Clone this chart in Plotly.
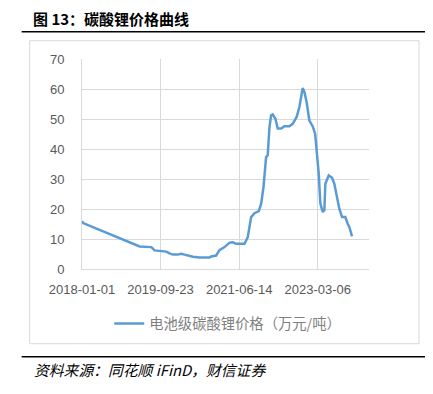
import plotly.graph_objects as go

dates = [
    "2018-01-01", "2018-01-10", "2019-04-08", "2019-05-26", "2019-07-11", "2019-08-06",
    "2019-09-21", "2019-11-08", "2019-12-04", "2019-12-31", "2020-02-06", "2020-03-07",
    "2020-04-02", "2020-04-29", "2020-06-08", "2020-07-31", "2020-10-19", "2020-11-02",
    "2020-12-12", "2021-01-07", "2021-02-17", "2021-03-29", "2021-04-24", "2021-05-21",
    "2021-07-27", "2021-08-22", "2021-09-18", "2021-10-15", "2021-11-18", "2021-12-07",
    "2021-12-26", "2022-01-16", "2022-01-29", "2022-02-12", "2022-02-25", "2022-03-10",
    "2022-04-01", "2022-04-19", "2022-05-17", "2022-06-12", "2022-07-22", "2022-08-17",
    "2022-09-18", "2022-10-10", "2022-10-24", "2022-11-05", "2022-11-19", "2022-12-07",
    "2022-12-29", "2023-01-24", "2023-02-13", "2023-02-26", "2023-03-14", "2023-03-27",
    "2023-04-15", "2023-04-28", "2023-05-06", "2023-06-02", "2023-06-29", "2023-07-17",
    "2023-08-05", "2023-08-26", "2023-09-17", "2023-10-13", "2023-11-01", "2023-11-14",
    "2023-12-06",
]
prices = [
    16.0, 15.3, 7.5, 7.4, 7.3, 6.2,
    6.0, 5.8, 5.2, 4.8, 4.8, 5.1,
    4.8, 4.5, 4.1, 3.8, 3.8, 4.2,
    4.5, 6.3, 7.3, 8.8, 8.9, 8.4,
    8.4, 10.6, 17.3, 18.6, 19.3, 21.7,
    27.3, 37.3, 37.9, 47.3, 51.2, 51.5,
    50.1, 46.8, 46.8, 47.6, 47.6, 48.4,
    50.7, 54.0, 58.4, 60.3, 59.0, 55.6,
    49.5, 47.6, 45.1, 39.6, 31.8, 21.8,
    19.0, 19.6, 28.4, 31.2, 30.4, 28.4,
    24.0, 20.1, 17.3, 17.3, 15.1, 14.0,
    10.9,
]
x_ticks = ["2018-01-01", "2019-09-23", "2021-06-14", "2023-03-06"]
series_name = "电池级碳酸锂价格（万元/吨）"
title_text = "图 13：碳酸锂价格曲线"
source_text = "资料来源：同花顺 iFinD，财信证券"

fig = go.Figure()
fig.add_trace(go.Scatter(
    x=dates, y=prices, mode="lines", name=series_name,
    line=dict(color="#5B9BD5", width=2.5),
))

grid = "#d9d9d9"
tick_font = dict(family="Liberation Sans, Arial, sans-serif", size=13, color="#595959")

# page is rendered with an 8px body margin, so figure px = screen px - 8
fig.update_layout(
    width=433, height=394,
    margin=dict(l=74.3, r=72, t=51.3, b=132.7),
    paper_bgcolor="white", plot_bgcolor="white",
    showlegend=True,
    legend=dict(
        orientation="h", x=0.095, y=-0.26, xanchor="left", yanchor="middle",
        font=dict(family="Noto Sans CJK SC", size=14.3, color="#7f7f7f"),
        bgcolor="rgba(0,0,0,0)",
    ),
    xaxis=dict(
        type="date", range=["2018-01-01", "2024-04-20"],
        tickvals=x_ticks, ticktext=x_ticks, tickfont=tick_font,
        showgrid=True, gridcolor=grid, gridwidth=1,
        showline=True, linecolor=grid, linewidth=1,
        ticks="outside", ticklen=8, tickcolor="rgba(0,0,0,0)", zeroline=False,
    ),
    yaxis=dict(
        range=[0, 70], dtick=10, tickfont=tick_font,
        showgrid=True, gridcolor=grid, gridwidth=1,
        showline=True, linecolor=grid, linewidth=1,
        ticks="outside", ticklen=14, tickcolor="rgba(0,0,0,0)",
        zeroline=False,
    ),
)

W, L, R = 286.7, 82.3, 269.3  # screen-pixel plot geometry


def px(xp):
    return (xp - L) / W


def py(yp):
    return (R - yp) / 210.0


shapes = [
    dict(type="rect", xref="paper", yref="paper", x0=px(30), x1=px(419), y0=py(344), y1=py(41),
         line=dict(color="#d9d9d9", width=1), fillcolor="rgba(0,0,0,0)", layer="below"),
    dict(type="line", xref="paper", yref="paper", x0=px(22), x1=px(430), y0=py(32), y1=py(32),
         line=dict(color="black", width=1.5)),
    dict(type="line", xref="paper", yref="paper", x0=px(22), x1=px(430), y0=py(357), y1=py(357),
         line=dict(color="black", width=1.5)),
]
fig.update_layout(shapes=shapes)

fig.add_annotation(
    xref="paper", yref="paper", x=px(31), y=py(19), xanchor="left", yanchor="middle",
    text="<b>" + title_text + "</b>", showarrow=False,
    font=dict(family="Noto Sans CJK SC", size=15, color="black"),
)
fig.add_annotation(
    xref="paper", yref="paper", x=px(32), y=py(370), xanchor="left", yanchor="middle",
    text="<i>" + source_text + "</i>", showarrow=False,
    font=dict(family="Noto Sans CJK SC", size=14.8, color="black"),
)

fig.write_html("out.html")
